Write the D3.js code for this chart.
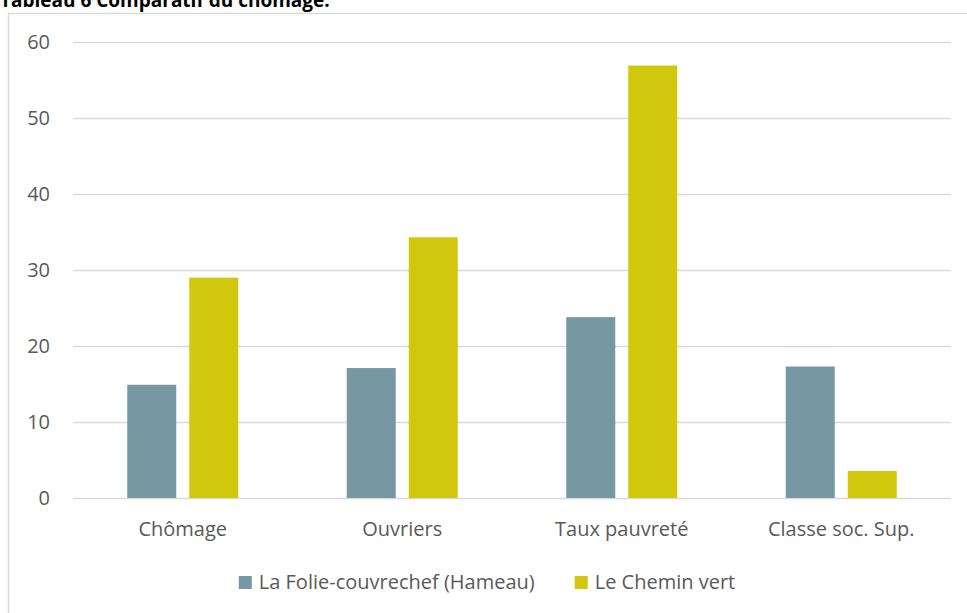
<!DOCTYPE html>
<html>
<head>
<meta charset="utf-8">
<script src="https://cdn.jsdelivr.net/npm/d3@7/dist/d3.min.js"></script>
<style>
  body { margin: 0; background: #fff; }
  svg { display: block; font-family: "Open Sans", sans-serif; }
</style>
</head>
<body>
<svg width="967" height="613"></svg>
<script>
const categories = ["Chômage", "Ouvriers", "Taux pauvreté", "Classe soc. Sup."];
const seriesNames = ["La Folie-couvrechef (Hameau)", "Le Chemin vert"];
const folieValues = [14.9, 17.1, 23.8, 17.3];
const cheminValues = [29.0, 34.3, 56.9, 3.55];
const yTicks = [0, 10, 20, 30, 40, 50, 60];
const colors = ["#7598a3", "#d1c70c"];

const svg = d3.select("svg");
const width = +svg.attr("width");
const height = +svg.attr("height");
const margin = { top: 42, right: 16, bottom: 115, left: 73 };
const innerWidth = width - margin.left - margin.right;
const innerHeight = height - margin.top - margin.bottom;
const textColor = "#595959";
const gridColor = "#d9d9d9";

// chart frame
svg.append("rect")
  .attr("x", 8.5).attr("y", 13.5)
  .attr("width", width).attr("height", height)
  .attr("fill", "none")
  .attr("stroke", gridColor)
  .attr("stroke-width", 1.5);

// title (cut at top like the reference)
svg.append("text")
  .attr("x", 0).attr("y", 7)
  .attr("font-weight", "bold")
  .attr("font-size", 19)
  .attr("fill", "#000")
  .text("Tableau 6 Comparatif du chômage.");

const data = categories.map((c, i) => ({
  name: c,
  values: [folieValues[i], cheminValues[i]]
}));

const x0 = d3.scaleBand()
  .domain(categories)
  .range([0, innerWidth])
  .paddingInner(0.4943)
  .paddingOuter(0.4943 / 2);

const x1 = d3.scaleBand()
  .domain(seriesNames)
  .range([0, x0.bandwidth()])
  .paddingInner(0.2097);

const y = d3.scaleLinear().domain([0, 60]).range([innerHeight, 0]);

const g = svg.append("g")
  .attr("transform", `translate(${margin.left}, ${margin.top})`);

// gridlines + y labels
const yAxis = d3.axisLeft(y)
  .tickValues(yTicks)
  .tickSize(-innerWidth)
  .tickPadding(23);

const yAxisG = g.append("g").call(yAxis);
yAxisG.select(".domain").remove();
yAxisG.selectAll(".tick line")
  .attr("stroke", gridColor)
  .attr("stroke-width", 1.5);
yAxisG.selectAll(".tick text")
  .attr("fill", textColor)
  .attr("font-size", 20)
  .attr("font-family", "Open Sans, sans-serif");

// bars
const groups = g.selectAll(".cat")
  .data(data)
  .enter()
  .append("g")
  .attr("class", "cat")
  .attr("transform", (d) => `translate(${x0(d.name)}, 0)`);

groups.selectAll("rect")
  .data((d) => d.values.map((v, i) => ({ key: seriesNames[i], value: v, idx: i })))
  .enter()
  .append("rect")
  .attr("x", (d) => x1(d.key))
  .attr("y", (d) => y(d.value))
  .attr("width", x1.bandwidth())
  .attr("height", (d) => innerHeight - y(d.value))
  .attr("fill", (d) => colors[d.idx]);

// x labels
const xAxis = d3.axisBottom(x0).tickSize(0).tickPadding(24);
const xAxisG = g.append("g")
  .attr("transform", `translate(0, ${innerHeight})`)
  .call(xAxis);
xAxisG.select(".domain").remove();
xAxisG.selectAll(".tick text")
  .attr("fill", textColor)
  .attr("font-size", 20)
  .attr("font-family", "Open Sans, sans-serif");

// legend
const legend = svg.append("g");
const legendItems = legend.selectAll("g")
  .data(seriesNames)
  .enter()
  .append("g");
legendItems.append("rect")
  .attr("width", 13).attr("height", 13)
  .attr("y", -13)
  .attr("fill", (d, i) => colors[i]);
legendItems.append("text")
  .attr("x", 20)
  .attr("fill", textColor)
  .attr("font-size", 20)
  .text((d) => d);

let offset = 0;
legendItems.each(function () {
  const item = d3.select(this);
  item.attr("transform", `translate(${offset}, 0)`);
  offset += 20 + item.select("text").node().getComputedTextLength() + 40;
});
const legendWidth = offset - 40;
legend.attr("transform", `translate(${487 - legendWidth / 2}, 589)`);
</script>
</body>
</html>
